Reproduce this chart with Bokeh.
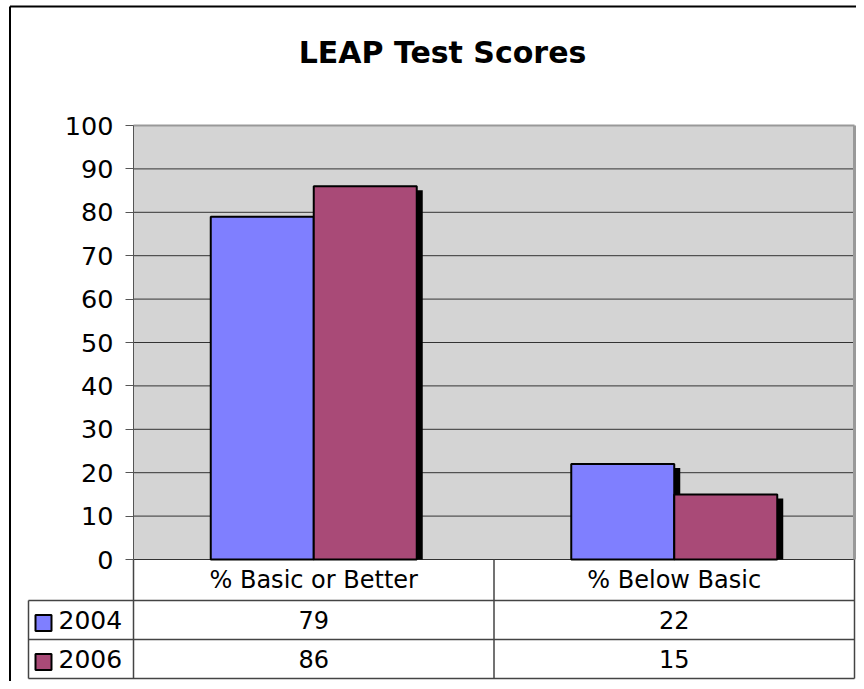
import numpy as np
from bokeh.plotting import figure
from bokeh.models import Range1d, FixedTicker, LinearAxis
from bokeh.embed import file_html
from bokeh.resources import INLINE
from bokeh.core.properties import value

# ---------------- data ----------------
chart_title = "LEAP Test Scores"
categories = ["% Basic or Better", "% Below Basic"]
series_names = ["2004", "2006"]
scores_2004 = [79, 22]
scores_2006 = [86, 15]
y_tick_values = [0, 10, 20, 30, 40, 50, 60, 70, 80, 90, 100]

# ---------------- style / layout ----------------
color_2004 = "#7F7FFF"
color_2006 = "#A94A77"
plot_bg = "#D4D4D4"
FONT = "DejaVu Sans"

W, H = 856, 681
AX_L, AX_R = 133, 854      # plot area, canvas pixels
AX_T, AX_B = 125, 559
HDR_B, ROW1_B, TAB_B = 600, 639, 678
LEG_L = 28

n = len(categories)
ppx = (AX_R - AX_L) / n
y_max = y_tick_values[-1]
ppy = (AX_B - AX_T) / y_max


def dx(px):
    return (px - AX_L) / ppx


def dy(py):
    return (AX_B - py) / ppy


p = figure(width=W, height=H,
           x_range=Range1d(dx(0), dx(W)),
           y_range=Range1d(dy(H), dy(0)),
           output_backend="svg", toolbar_location=None,
           x_axis_type=None, y_axis_type=None, min_border=0,
           outline_line_color=None, background_fill_color="white",
           border_fill_color="white")

# plot-area background
p.quad(left=[0], right=[n], bottom=[0], top=[y_max], fill_color=plot_bg, line_color=None)

# grid lines (including the baseline)
grid_vals = y_tick_values[:-1]
p.segment(x0=[0] * len(grid_vals), x1=[n] * len(grid_vals), y0=grid_vals, y1=grid_vals,
          line_color="#333333", line_width=1)
# top / right borders of the plot area
p.segment(x0=[0], x1=[n], y0=[y_max], y1=[y_max], line_color="#999999", line_width=2)
p.segment(x0=[n], x1=[n], y0=[0], y1=[y_max], line_color="#999999", line_width=3)

# bars
bw = 1 / 3.5
centers = np.arange(n) + 0.5
shadow_dx = 6 / ppx
shadow_dy = 4 / ppy
for k, (vals, col) in enumerate([(scores_2004, color_2004), (scores_2006, color_2006)]):
    vals = np.array(vals, dtype=float)
    left = centers - bw + k * bw
    right = left + bw
    p.quad(left=left + shadow_dx, right=right + shadow_dx, bottom=np.zeros(n),
           top=vals - shadow_dy, fill_color="black", line_color=None)
    p.quad(left=left, right=right, bottom=np.zeros(n), top=vals,
           fill_color=col, line_color="black", line_width=2)

# y axis
yaxis = LinearAxis(fixed_location=0, ticker=FixedTicker(ticks=y_tick_values), bounds=(0, y_max),
                   axis_line_color="#555555", axis_line_width=1,
                   major_tick_line_color="#555555", major_tick_out=8, major_tick_in=0,
                   minor_tick_out=0, minor_tick_in=0, major_label_standoff=12,
                   major_label_text_font=FONT, major_label_text_font_size="25.5px",
                   major_label_text_color="black")
p.add_layout(yaxis, "left")

# data table lines
tab_line = "#444444"
y_hdr, y_r1, y_bot = dy(HDR_B), dy(ROW1_B), dy(TAB_B)
vx = list(range(n + 1))
p.segment(x0=vx, x1=vx, y0=[0] * len(vx), y1=[y_bot] * len(vx), line_color=tab_line, line_width=1.5)
p.segment(x0=[dx(LEG_L)], x1=[dx(LEG_L)], y0=[y_hdr], y1=[y_bot], line_color=tab_line, line_width=1.5)
hy = [y_hdr, y_r1, y_bot]
p.segment(x0=[dx(LEG_L)] * 3, x1=[n] * 3, y0=hy, y1=hy, line_color=tab_line, line_width=1.5)

# table texts
txt = dict(text_font=value(FONT), text_font_size="24px", text_color="black",
           text_align="center", text_baseline="middle")
p.text(x=centers, y=[(0 + y_hdr) / 2] * n, text=categories, **txt)
p.text(x=centers, y=[(y_hdr + y_r1) / 2] * n, text=[str(v) for v in scores_2004], **txt)
p.text(x=centers, y=[(y_r1 + y_bot) / 2] * n, text=[str(v) for v in scores_2006], **txt)

# legend keys
row_mid = [(y_hdr + y_r1) / 2, (y_r1 + y_bot) / 2]
p.rect(x=[dx(43)] * 2, y=[r - 3 / ppy for r in row_mid], width=16, height=16,
       width_units="screen", height_units="screen",
       fill_color=[color_2004, color_2006], line_color="black", line_width=2)
p.text(x=[dx(58)] * 2, y=row_mid, text=series_names, text_font=value(FONT), text_font_size="25px",
       text_color="black", text_align="left", text_baseline="middle")

# title
p.text(x=[dx(442)], y=[dy(52)], text=[chart_title], text_font=value(FONT), text_font_size="30px",
       text_font_style="bold", text_color="black", text_align="center", text_baseline="middle")

# outer chart frame (left and top edges)
p.segment(x0=[dx(9.5)], x1=[dx(9.5)], y0=[dy(6)], y1=[dy(H)], line_color="black", line_width=2)
p.segment(x0=[dx(9.5)], x1=[dx(W)], y0=[dy(6)], y1=[dy(6)], line_color="black", line_width=2)

open("out.html", "w").write(file_html(p, INLINE))
